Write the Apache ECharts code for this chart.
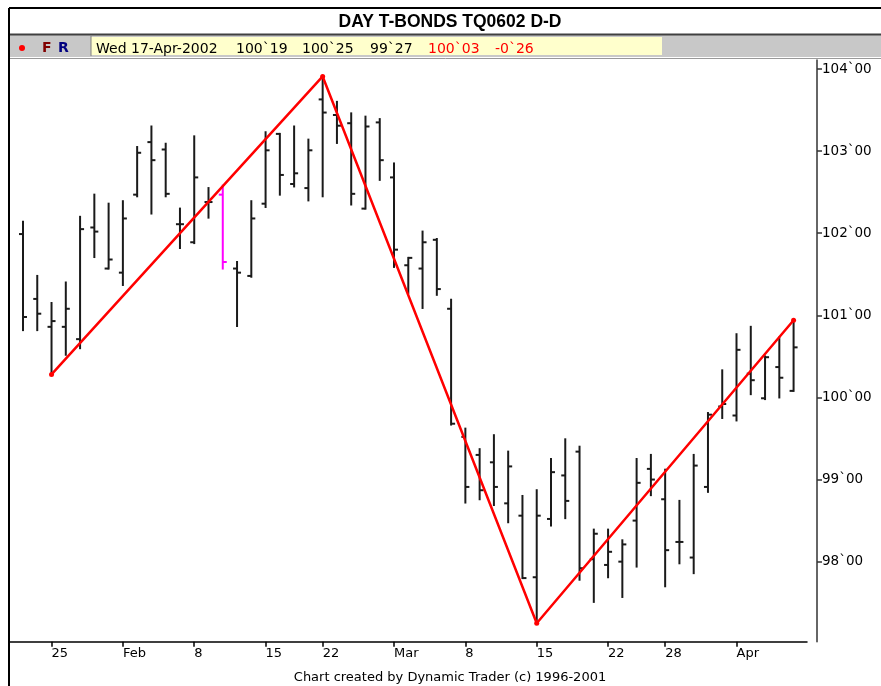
<!DOCTYPE html>
<html>
<head>
<meta charset="utf-8">
<script src="https://cdn.jsdelivr.net/npm/echarts@6/dist/echarts.min.js"></script>
<style>
  html, body { margin: 0; padding: 0; background: #fff; }
  #chart { width: 881px; height: 686px; }
</style>
</head>
<body>
<div id="chart"></div>
<script>
// trading days shown (Jan 23 .. Apr 11, 2002)
var dates = ['01-23','01-24','01-25','01-28','01-29','01-30','01-31','02-01','02-04','02-05',
  '02-06','02-07','02-08','02-11','02-12','02-13','02-14','02-15','02-19','02-20',
  '02-21','02-22','02-25','02-26','02-27','02-28','03-01','03-04','03-05','03-06',
  '03-07','03-08','03-11','03-12','03-13','03-14','03-15','03-18','03-19','03-20',
  '03-21','03-22','03-25','03-26','03-27','03-28','04-01','04-02','04-03','04-04',
  '04-05','04-08','04-09','04-10','04-11']

var opens = [101.99, 101.20, 100.86, 100.86, 100.71, 102.07, 101.57, 101.52, 102.47, 103.11,
  103.02, 102.11, 101.89, 102.38, 102.47, 101.57, 101.48, 102.36, 103.21, 102.60,
  102.55, 103.63, 103.44, 103.34, 102.30, 103.35, 102.68, 101.61, 101.57, 101.92,
  101.08, 99.52, 99.30, 99.21, 98.71, 98.56, 97.81, 98.52, 99.05, 99.34,
  98.03, 97.96, 98.00, 98.50, 99.13, 98.76, 98.24, 98.05, 98.91, 99.89,
  99.78, 100.29, 99.99, 100.37, 100.08]
var highs = [102.14, 101.48, 101.15, 101.40, 102.20, 102.47, 102.36, 102.39, 103.05, 103.30,
  103.09, 102.30, 103.18, 102.55, 102.58, 101.65, 102.39, 103.23, 103.21, 103.30,
  103.14, 103.91, 103.60, 103.46, 103.42, 103.39, 102.85, 101.70, 102.02, 101.93,
  101.19, 99.62, 99.37, 99.54, 99.34, 98.80, 98.87, 99.25, 99.49, 99.40,
  98.39, 98.39, 98.26, 99.25, 99.30, 99.12, 98.74, 99.30, 99.81, 100.33,
  100.77, 100.86, 100.50, 100.73, 100.94]
var lows = [100.82, 100.82, 100.28, 100.52, 100.60, 101.71, 101.57, 101.37, 102.45, 102.24,
  102.45, 101.82, 101.88, 102.19, 101.57, 100.87, 101.47, 102.32, 102.47, 102.57,
  102.40, 102.45, 103.10, 102.35, 102.30, 102.65, 101.59, 101.27, 101.09, 101.25,
  99.67, 98.72, 98.76, 98.69, 98.48, 97.80, 97.25, 98.44, 98.53, 97.78,
  97.51, 97.81, 97.57, 97.94, 98.81, 97.70, 97.98, 97.86, 98.85, 99.75,
  99.72, 100.04, 99.98, 100.00, 100.08]
var closes = [100.98, 101.02, 100.93, 101.08, 102.05, 102.02, 101.68, 102.18, 102.98, 102.89,
  102.48, 102.11, 102.68, 102.38, 101.65, 101.52, 102.18, 103.01, 102.71, 102.73,
  103.01, 103.47, 103.31, 102.48, 103.30, 102.89, 101.80, 101.70, 101.89, 101.32,
  99.68, 98.91, 98.87, 98.91, 99.16, 97.80, 98.56, 99.09, 98.74, 97.92,
  98.34, 98.12, 98.21, 98.96, 99.00, 98.14, 98.24, 99.17, 99.79, 99.92,
  100.58, 100.21, 100.49, 100.24, 100.61]

// swing line (zigzag)
var swingIdx = [2, 21, 36, 54]
var swingPrice = [100.28, 103.91, 97.25, 100.94]

// axis ticks
var xTickIdx = [2, 7, 12, 17, 21, 26, 31, 36, 41, 45, 50]
var xTickText = ['25', 'Feb', '8', '15', '22', 'Mar', '8', '15', '22', '28', 'Apr']
var yTicks = [98, 99, 100, 101, 102, 103, 104]

// quote line in header
var quote = ['Wed 17-Apr-2002', '100`19', '100`25', '99`27', '100`03', '-0`26']

var markedBar = 14

function fmt32 (v) {
    var whole = Math.floor(v)
    var ticks = Math.round((v - whole) * 32)
    return whole + '`' + (ticks < 10 ? '0' + ticks : ticks)
}

var bars = dates.map(function (d, i) {
    return [i, opens[i], highs[i], lows[i], closes[i]]
})
var swing = swingIdx.map(function (x, i) { return [x, swingPrice[i]] })

var txt = function (x, y, text, color, size, weight, align) {
    return {
        type: 'text', x: x, y: y, silent: true,
        style: {
            text: text, fill: color || '#000', fontFamily: 'DejaVu Sans',
            fontSize: size || 14, fontWeight: weight || 'normal',
            textAlign: align || 'left', textVerticalAlign: 'middle'
        }
    }
}
var quoteX = [96, 236, 302, 370, 428, 495]
var quoteColor = ['#000', '#000', '#000', '#000', '#ff0000', '#ff0000']

var graphics = [
    { type: 'rect', shape: { x: 10, y: 35, width: 871, height: 22 }, style: { fill: '#c8c8c8' } },
    { type: 'rect', shape: { x: 91, y: 37, width: 571, height: 18 }, style: { fill: '#ffffcc' } },
    { type: 'line', shape: { x1: 91, y1: 36, x2: 91, y2: 56 }, style: { stroke: '#808080', lineWidth: 1 } },
    { type: 'line', shape: { x1: 9, y1: 34.5, x2: 881, y2: 34.5 }, style: { stroke: '#404040', lineWidth: 2 } },
    { type: 'line', shape: { x1: 10, y1: 58.5, x2: 881, y2: 58.5 }, style: { stroke: '#999', lineWidth: 1 } },
    { type: 'line', shape: { x1: 9, y1: 8, x2: 881, y2: 8 }, style: { stroke: '#000', lineWidth: 2 } },
    { type: 'line', shape: { x1: 9, y1: 8, x2: 9, y2: 686 }, style: { stroke: '#000', lineWidth: 2 } },
    { type: 'circle', shape: { cx: 22, cy: 48, r: 3 }, style: { fill: '#ff0000' } },
    txt(42, 48.5, 'F', '#800000', 14, 'bold'),
    txt(58, 48.5, 'R', '#000080', 14, 'bold'),
    {
        type: 'text', x: 450, y: 22, silent: true,
        style: {
            text: 'DAY T-BONDS TQ0602 D-D', fill: '#000', fontFamily: 'Liberation Sans',
            fontSize: 17.5, fontWeight: 'bold', textAlign: 'center', textVerticalAlign: 'middle'
        }
    },
    txt(450, 678, 'Chart created by Dynamic Trader (c) 1996-2001', '#000', 13, 'normal', 'center')
]
quote.forEach(function (q, i) {
    graphics.push(txt(quoteX[i], 49, q, quoteColor[i], 14))
})

var chart = echarts.init(document.getElementById('chart'))
chart.setOption({
    animation: false,
    backgroundColor: '#fff',
    grid: { left: 10, right: 74, top: 60, bottom: 44.3 },
    xAxis: {
        type: 'value',
        min: -0.91,
        max: 54.94,
        axisLine: { show: true, onZero: false, lineStyle: { color: '#000', width: 1.5 } },
        axisTick: { show: true, customValues: xTickIdx, length: 5, lineStyle: { color: '#000', width: 1.5 } },
        axisLabel: {
            customValues: xTickIdx,
            formatter: function (v) { return xTickText[xTickIdx.indexOf(v)] },
            align: 'left', margin: 5,
            fontFamily: 'DejaVu Sans', fontSize: 13, color: '#000'
        },
        splitLine: { show: false }
    },
    yAxis: {
        type: 'value',
        position: 'right',
        offset: 10,
        min: 97.025,
        max: 104.11,
        axisLine: { show: true, onZero: false, lineStyle: { color: '#333', width: 1.5 } },
        axisTick: { show: true, customValues: yTicks, length: 5, lineStyle: { color: '#333', width: 1.5 } },
        axisLabel: {
            customValues: yTicks,
            formatter: fmt32,
            margin: 5,
            fontFamily: 'DejaVu Sans', fontSize: 13.5, color: '#000'
        },
        splitLine: { show: false }
    },
    series: [{
        type: 'custom',
        data: bars,
        encode: { x: 0, y: [1, 2, 3, 4] },
        renderItem: function (params, api) {
            var x = api.value(0)
            var o = api.coord([x, api.value(1)])
            var h = api.coord([x, api.value(2)])
            var l = api.coord([x, api.value(3)])
            var c = api.coord([x, api.value(4)])
            var col = params.dataIndex === markedBar ? '#ff00ff' : '#1a1a1a'
            var st = { stroke: col, lineWidth: 2 }
            return {
                type: 'group',
                children: [
                    { type: 'line', shape: { x1: h[0], y1: h[1] - 1, x2: l[0], y2: l[1] + 1 }, style: st },
                    { type: 'line', shape: { x1: o[0] - 4, y1: o[1], x2: o[0], y2: o[1] }, style: st },
                    { type: 'line', shape: { x1: c[0], y1: c[1], x2: c[0] + 4, y2: c[1] }, style: st }
                ]
            }
        },
        z: 2
    }, {
        type: 'line',
        data: swing,
        symbol: 'circle',
        symbolSize: 5,
        itemStyle: { color: '#ff0000' },
        lineStyle: { color: '#ff0000', width: 2.5 },
        z: 3
    }],
    graphic: graphics
})
</script>
</body>
</html>
